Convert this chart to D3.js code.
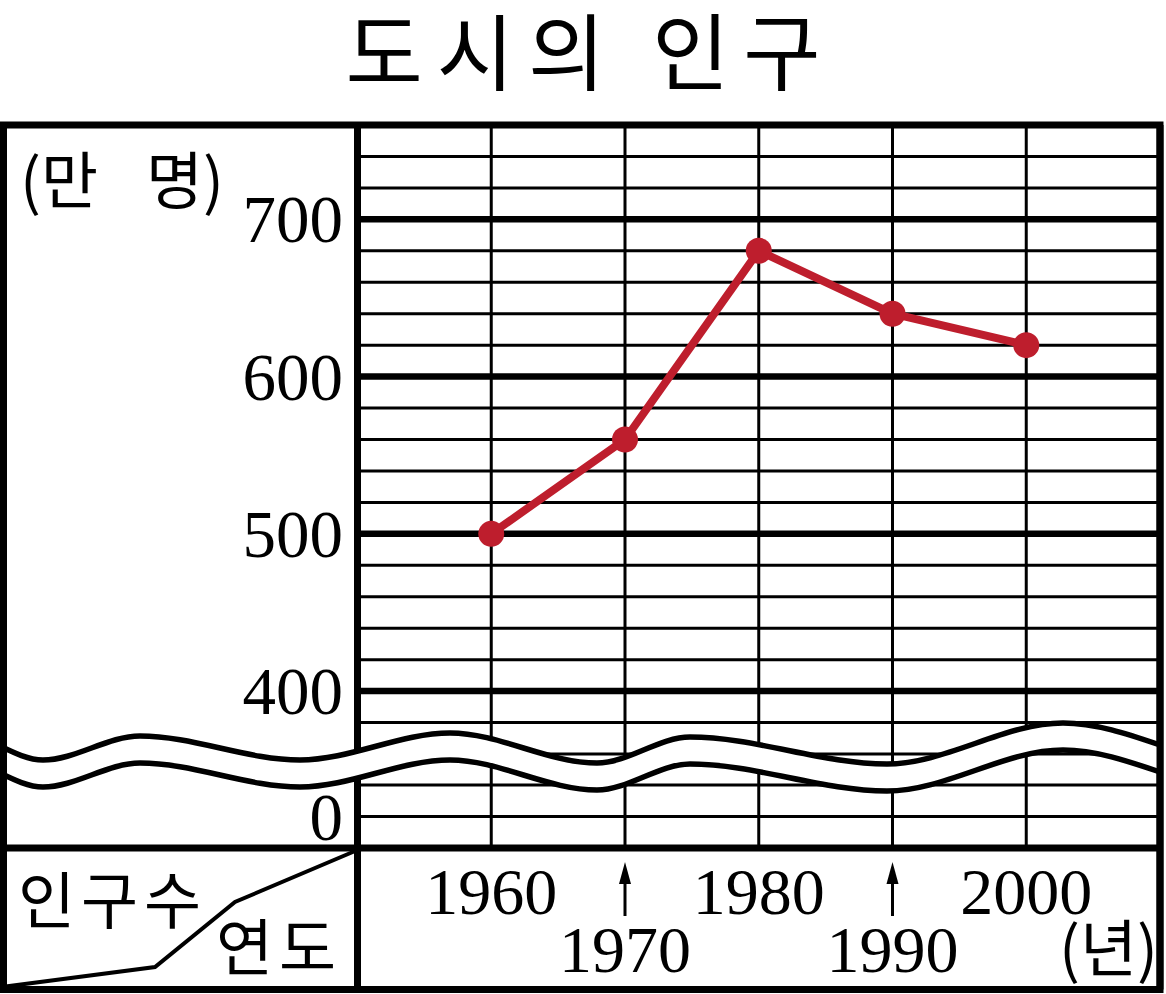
<!DOCTYPE html>
<html><head><meta charset="utf-8">
<script src="https://cdn.jsdelivr.net/npm/d3@7"></script>
<style>html,body{margin:0;padding:0;background:#fff;}svg{display:block;}</style>
</head><body>
<svg id="chart" width="1166" height="994"></svg>
<script>
// ---- data ----
const years = [1960, 1970, 1980, 1990, 2000];
const population = [500, 560, 680, 640, 620];       // 만 명
const yTickLabels = [0, 400, 500, 600, 700];
const yMajorGrid = [400, 500, 600, 700];
const yMinorGrid = [0, 20].concat(d3.range(360, 760, 20));
const xTopLabels = [1960, 1980, 2000];
const xBottomLabels = [1970, 1990];
const title = "도시의 인구";
const yUnitParts = ["(만", "명)"];
const xUnit = "(년)";
const cornerTop = "인구수";
const cornerBottom = "연도";
// break-symbol wave (decoration), [x, y] of upper edge in px
const breakWave = [[0,746],[43,760],[140,736],[300,760],[450,733],[597,763],[690,737],[887,764],[1063,723],[1160,745]];
const breakGap = 27;

// ---- layout ----
const L = 3.5, R = 1160, T = 125, B = 989.5, DX = 357.5, DY = 848;
const svg = d3.select("#chart");
const x = d3.scaleLinear().domain([1950, 2010]).range([DX, R]);
const y = d3.scaleLinear().domain([-20, 20, 360, 760]).range([DY, 785, 754, T]);

const serif = "'Liberation Serif','DejaVu Serif',serif";
const kr = "'Noto Sans CJK KR','Noto Sans',sans-serif";

// title
svg.append("text").attr("x", 590).attr("y", 47)
  .attr("text-anchor", "middle").attr("dominant-baseline", "central")
  .attr("font-family", kr).attr("font-size", 84).attr("letter-spacing", 14)
  .text(title);

// grid
const g = svg.append("g");
g.selectAll("line.minor").data(yMinorGrid).join("line")
  .attr("x1", DX).attr("x2", R).attr("y1", d => y(d)).attr("y2", d => y(d))
  .attr("stroke", "#000").attr("stroke-width", 3);
g.selectAll("line.major").data(yMajorGrid).join("line")
  .attr("x1", DX).attr("x2", R).attr("y1", d => y(d)).attr("y2", d => y(d))
  .attr("stroke", "#000").attr("stroke-width", 6.5);
g.selectAll("line.vert").data(years).join("line")
  .attr("x1", d => x(d)).attr("x2", d => x(d)).attr("y1", T).attr("y2", DY)
  .attr("stroke", "#000").attr("stroke-width", 3);

// y labels
svg.selectAll("text.ylab").data(yTickLabels).join("text")
  .attr("x", 343).attr("y", d => y(d))
  .attr("text-anchor", "end").attr("dominant-baseline", "central")
  .attr("font-family", serif).attr("font-size", 67)
  .text(d => d);

const yu = svg.append("text").attr("y", 177)
  .attr("dominant-baseline", "central")
  .attr("font-family", kr).attr("font-size", 62);
yu.append("tspan").attr("x", 20).text(yUnitParts[0]);
yu.append("tspan").attr("x", 146).text(yUnitParts[1]);

// data line
const pts = years.map((yr, i) => [yr, population[i]]);
svg.append("path").datum(pts)
  .attr("d", d3.line().x(d => x(d[0])).y(d => y(d[1])))
  .attr("fill", "none").attr("stroke", "#BE1E2D").attr("stroke-width", 8)
  .attr("stroke-linejoin", "round");
svg.selectAll("circle.pt").data(pts).join("circle")
  .attr("cx", d => x(d[0])).attr("cy", d => y(d[1])).attr("r", 13)
  .attr("fill", "#BE1E2D");

// frame (before wave)
const frame = svg.append("g").attr("stroke", "#000").attr("stroke-width", 7).attr("fill", "none");
frame.append("rect").attr("x", L).attr("y", T).attr("width", R - L).attr("height", B - T);
frame.append("line").attr("x1", DX).attr("x2", DX).attr("y1", T).attr("y2", B);
frame.append("line").attr("x1", L).attr("x2", R).attr("y1", DY).attr("y2", DY);

// break wave
const area = d3.area().x(d => d[0]).y0(d => d[1]).y1(d => d[1] + breakGap).curve(d3.curveMonotoneX);
svg.append("path").datum(breakWave).attr("d", area).attr("fill", "#fff");
const ln = d3.line().curve(d3.curveMonotoneX);
svg.append("path").datum(breakWave).attr("d", ln).attr("fill", "none").attr("stroke", "#000").attr("stroke-width", 5.5);
svg.append("path").datum(breakWave.map(d => [d[0], d[1] + breakGap])).attr("d", ln)
  .attr("fill", "none").attr("stroke", "#000").attr("stroke-width", 5.5);
// redraw outer sides over wave
svg.append("line").attr("x1", L).attr("x2", L).attr("y1", T).attr("y2", B).attr("stroke", "#000").attr("stroke-width", 7);
svg.append("line").attr("x1", R).attr("x2", R).attr("y1", T).attr("y2", B).attr("stroke", "#000").attr("stroke-width", 7);

// x labels
svg.selectAll("text.xt").data(xTopLabels).join("text")
  .attr("x", d => x(d)).attr("y", 891)
  .attr("text-anchor", "middle").attr("dominant-baseline", "central")
  .attr("font-family", serif).attr("font-size", 66).text(d => d);
svg.selectAll("text.xb").data(xBottomLabels).join("text")
  .attr("x", d => x(d)).attr("y", 949)
  .attr("text-anchor", "middle").attr("dominant-baseline", "central")
  .attr("font-family", serif).attr("font-size", 66).text(d => d);
// arrows
const arr = svg.selectAll("g.arr").data(xBottomLabels).join("g");
arr.append("line").attr("x1", d => x(d)).attr("x2", d => x(d)).attr("y1", 878).attr("y2", 916)
  .attr("stroke", "#000").attr("stroke-width", 3);
arr.append("path").attr("d", d => `M${x(d)},862 L${x(d)-6},884 L${x(d)+6},884 Z`).attr("fill", "#000");

svg.append("text").attr("x", 1158).attr("y", 945)
  .attr("text-anchor", "end").attr("dominant-baseline", "central")
  .attr("font-family", kr).attr("font-size", 62).text(xUnit);

// corner cell
svg.append("path").attr("d", `M${DX},${DY+2} L235,902 L155,967 L${L+2},${B-3}`)
  .attr("fill", "none").attr("stroke", "#000").attr("stroke-width", 4);
svg.append("text").attr("x", 18).attr("y", 897).attr("dominant-baseline", "central")
  .attr("font-family", kr).attr("font-size", 62).attr("letter-spacing", 6).text(cornerTop);
svg.append("text").attr("x", 216).attr("y", 944).attr("dominant-baseline", "central")
  .attr("font-family", kr).attr("font-size", 62).attr("letter-spacing", 6).text(cornerBottom);
</script>
</body></html>
